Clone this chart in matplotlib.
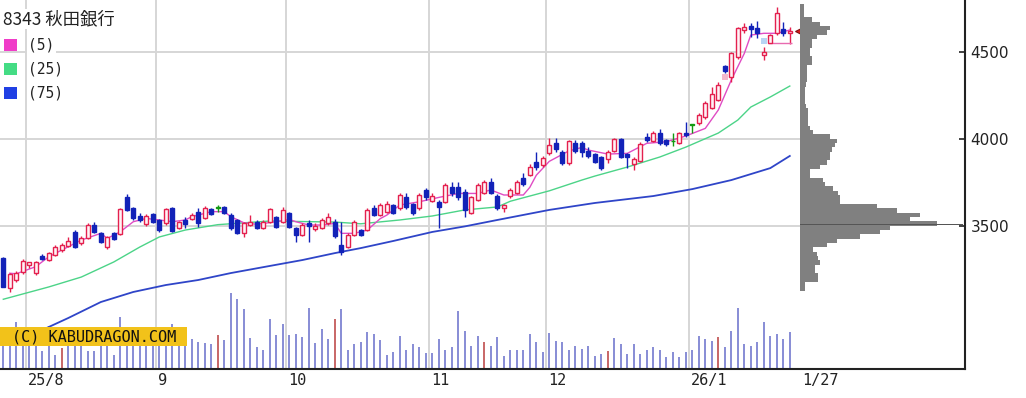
import matplotlib
matplotlib.use("Agg")
import matplotlib.pyplot as plt
from matplotlib.patches import Rectangle
import numpy as np

TITLE = "8343 秋田銀行"

# daily OHLC, 2025-07-28 .. 2026-01-27 (trading days)
opens = [3314, 3138, 3186, 3230, 3272, 3224, 3326, 3301, 3330, 3359,
         3384, 3464, 3397, 3430, 3503, 3458, 3378, 3455, 3449, 3666,
         3599, 3556, 3507, 3564, 3532, 3512, 3599, 3487, 3532, 3537,
         3580, 3541, 3593, 3600, 3605, 3560, 3532, 3455, 3503, 3522,
         3484, 3522, 3547, 3522, 3570, 3484, 3445, 3516, 3478, 3484,
         3512, 3522, 3388, 3378, 3445, 3474, 3474, 3599, 3560, 3580,
         3618, 3599, 3662, 3624, 3599, 3705, 3643, 3637, 3637, 3724,
         3720, 3695, 3570, 3647, 3685, 3753, 3670, 3599, 3670, 3685,
         3772, 3791, 3868, 3849, 3920, 3973, 3925, 3858, 3977, 3974,
         3931, 3912, 3893, 3882, 3931, 3997, 3912, 3855, 3874, 4008,
         3989, 4031, 3993, 3985, 3974, 4035, 4080, 4093, 4124, 4175,
         4224, 4419, 4354, 4473, 4627, 4650, 4637, 4483, 4554, 4608,
         4631, 4608]
highs = [3320, 3225, 3240, 3305, 3292, 3295, 3335, 3350, 3390, 3400,
         3435, 3474, 3440, 3512, 3518, 3465, 3442, 3462, 3600, 3680,
         3605, 3570, 3565, 3570, 3540, 3600, 3605, 3525, 3550, 3570,
         3599, 3610, 3600, 3620, 3610, 3570, 3540, 3520, 3560, 3530,
         3530, 3600, 3555, 3608, 3580, 3490, 3515, 3532, 3515, 3545,
         3570, 3535, 3522, 3455, 3530, 3480, 3600, 3620, 3630, 3640,
         3625, 3686, 3686, 3630, 3690, 3715, 3690, 3645, 3745, 3753,
         3753, 3710, 3670, 3745, 3765, 3772, 3680, 3625, 3715, 3760,
         3800, 3855, 3925, 3900, 4002, 4002, 3935, 3995, 3993, 3985,
         3955, 3920, 3900, 3935, 4005, 4005, 3920, 3897, 3980, 4035,
         4045, 4054, 4000, 4031, 4040, 4099, 4080, 4147, 4215, 4300,
         4330, 4425, 4500, 4645, 4665, 4665, 4680, 4531, 4606, 4761,
         4675, 4646]
lows = [3147, 3118, 3175, 3220, 3253, 3215, 3300, 3295, 3325, 3350,
        3378, 3368, 3390, 3425, 3458, 3398, 3364, 3415, 3445, 3583,
        3530, 3522, 3500, 3515, 3465, 3505, 3462, 3480, 3483, 3530,
        3493, 3535, 3560, 3580, 3565, 3475, 3450, 3435, 3498, 3478,
        3478, 3515, 3485, 3515, 3485, 3407, 3440, 3407, 3470, 3478,
        3505, 3430, 3330, 3372, 3440, 3440, 3470, 3555, 3555, 3570,
        3565, 3590, 3593, 3560, 3590, 3647, 3635, 3484, 3630, 3670,
        3647, 3550, 3565, 3640, 3680, 3680, 3590, 3580, 3660, 3680,
        3728, 3785, 3820, 3840, 3906, 3925, 3850, 3850, 3916, 3897,
        3887, 3860, 3820, 3860, 3925, 3890, 3830, 3820, 3865, 3983,
        3980, 3964, 3960, 3960, 3970, 4012, 4031, 4080, 4115, 4170,
        4215, 4377, 4329, 4460, 4608, 4585, 4579, 4454, 4550, 4600,
        4592, 4546]
closes = [3147, 3218, 3224, 3295, 3287, 3287, 3307, 3340, 3378, 3388,
          3410, 3378, 3430, 3503, 3464, 3403, 3436, 3422, 3595, 3589,
          3541, 3532, 3556, 3522, 3474, 3595, 3468, 3518, 3507, 3560,
          3513, 3599, 3566, 3600, 3570, 3484, 3455, 3512, 3522, 3484,
          3522, 3593, 3493, 3589, 3493, 3445, 3503, 3497, 3497, 3532,
          3551, 3440, 3349, 3445, 3522, 3445, 3589, 3560, 3618, 3624,
          3574, 3676, 3609, 3574, 3676, 3662, 3668, 3609, 3734, 3685,
          3662, 3590, 3662, 3734, 3753, 3690, 3599, 3618, 3705, 3753,
          3740, 3839, 3839, 3887, 3964, 3939, 3858, 3989, 3931, 3926,
          3901, 3868, 3830, 3926, 3997, 3897, 3893, 3882, 3970, 3993,
          4035, 3974, 3970, 3985, 4031, 4022, 4080, 4137, 4204, 4258,
          4310, 4393, 4492, 4636, 4646, 4635, 4612, 4502, 4598, 4727,
          4608, 4623]
# volume (thousand shares)
volumes = [185, 155, 235, 170, 165, 155, 90, 215, 70, 105,
           155, 165, 145, 90, 90, 155, 165, 70, 260, 160,
           145, 155, 165, 145, 155, 165, 225, 145, 155, 150,
           135, 130, 125, 170, 145, 380, 350, 300, 155, 110,
           95, 250, 170, 225, 170, 175, 160, 305, 130, 200,
           150, 250, 300, 95, 125, 135, 185, 175, 145, 70,
           85, 165, 95, 125, 110, 80, 80, 150, 95, 110,
           290, 190, 115, 165, 135, 115, 160, 65, 95, 95,
           95, 175, 135, 85, 180, 140, 135, 95, 115, 100,
           115, 65, 75, 90, 155, 125, 75, 125, 75, 95,
           110, 95, 60, 85, 60, 85, 95, 165, 150, 140,
           160, 110, 190, 305, 125, 115, 135, 235, 165, 175,
           150, 185]
red_volume_days = [9, 33, 51, 74, 93, 110]

# moving averages read at sample days
ma5_idx = [1, 2, 5, 7, 10, 12, 15, 16, 18, 20, 22, 24, 26, 28, 29, 32, 34, 35,
           37, 39, 42, 44, 45, 47, 49, 51, 52, 54, 56, 58, 59, 61, 64, 67, 70,
           73, 75, 77, 80, 81, 82, 84, 87, 89, 90, 93, 96, 99, 102, 105, 108,
           110, 112, 114, 115, 117, 119, 121]
ma5_val = [3225, 3222, 3263, 3320, 3378, 3416, 3455, 3426, 3464, 3522, 3541,
           3532, 3522, 3532, 3551, 3580, 3580, 3551, 3516, 3507, 3522, 3535,
           3522, 3503, 3503, 3512, 3455, 3455, 3474, 3540, 3560, 3618, 3637,
           3662, 3685, 3685, 3705, 3676, 3676, 3720, 3790, 3870, 3930, 3950,
           3935, 3912, 3916, 3974, 3983, 4016, 4060, 4166, 4339, 4492, 4598,
           4608, 4608, 4627]
ma25_idx = [0, 7, 12, 17, 21, 24, 28, 33, 41, 51, 55, 61, 66, 71, 76, 78, 84,
            89, 91, 96, 101, 105, 110, 113, 115, 118, 121]
ma25_val = [3075, 3146, 3203, 3290, 3376, 3434, 3474, 3505, 3526, 3520, 3510,
            3532, 3555, 3590, 3607, 3640, 3700, 3762, 3785, 3837, 3895, 3952,
            4033, 4108, 4183, 4241, 4304]
ma75_idx = [0, 6, 10, 15, 20, 25, 30, 35, 41, 46, 51, 55, 60, 66, 71, 76, 84,
            91, 100, 106, 112, 118, 121]
ma75_val = [2840, 2898, 2967, 3059, 3117, 3157, 3186, 3226, 3267, 3301, 3341,
            3370, 3411, 3463, 3495, 3532, 3590, 3630, 3670, 3710, 3762, 3831,
            3901]

# price-by-volume profile, 25 yen bins starting at 3125
profile_start = 3125
profile_step = 25
profile_vol = [5, 5, 18, 18, 15, 15, 20, 18, 17, 13, 27, 37, 60, 80, 90, 137,
               110, 120, 97, 77, 40, 40, 38, 33, 25, 23, 10, 10, 20, 27, 30,
               30, 32, 35, 37, 30, 13, 10, 8, 8, 8, 8, 6, 5, 5, 5, 5, 6, 7, 7,
               7, 7, 12, 12, 10, 10, 12, 12, 17, 27, 30, 20, 12, 4, 4, 4]
profile_peak_price = 3505

# gap markers and support line near the end
gap_idx = [111, 117]
gap_lo = [4339, 4546]
gap_hi = [4373, 4580]
gap_colors = ["#f4b8cc", "#b8d4f4"]
support_price = 4550
support_from, support_to = 118, 121

month_pos = [3.5, 23.5, 43.5, 65.5, 83.5, 105.5]
month_labels = ["25/8", "9", "10", "11", "12", "26/1"]
last_label = "1/27"
price_ticks = [3500, 4000, 4500]

W, H = 1026, 398
PX = 6.5          # pixels per trading day
X0 = 3.3          # pixel of first candle
PLOT_W, PLOT_H = 965, 369
PROFILE_X = 800

fig = plt.figure(figsize=(W / 100, H / 100), dpi=100, facecolor="white")
rect = [0, 1 - PLOT_H / H, PLOT_W / W, PLOT_H / H]
ax = fig.add_axes(rect)
axv = fig.add_axes(rect, sharex=ax)
ax.set_zorder(2)
axv.set_zorder(1)
ax.patch.set_visible(False)

xmin, xmax = -X0 / PX, (PLOT_W - X0) / PX
prof_i = (PROFILE_X - X0) / PX
ax.set_xlim(xmin, xmax)
ax.set_ylim(2673, 4800)

# grid
for m in month_pos:
    ax.axvline(m, color="#d6d6d6", lw=1.4, zorder=0)
ax.hlines(price_ticks, xmin, prof_i, color="#d6d6d6", lw=1.4, zorder=0)

# volume
idx = np.arange(len(closes))
vcol = ["#c96a6a" if i in red_volume_days else "#8a8fd6" for i in idx]
axv.bar(idx, volumes, width=0.26, color=vcol, linewidth=0)
axv.set_ylim(0, PLOT_H * 5)
axv.axis("off")

# moving averages
ax.plot(ma75_idx, ma75_val, color="#2f45c8", lw=1.3, zorder=3)
ax.plot(ma25_idx, ma25_val, color="#4cd488", lw=1.0, zorder=3)
ax.plot(ma5_idx, ma5_val, color="#e04cc4", lw=1.0, zorder=3)

# candles
o = np.array(opens)
c = np.array(closes)
up_col, dn_col, eq_col = "#e4204e", "#1222b8", "#129a12"
edge = np.where(c > o, up_col, np.where(c < o, dn_col, eq_col))
face = np.where(c > o, "#fff3f6", edge)
ax.vlines(idx, lows, highs, colors=edge, lw=1.0, zorder=4)
body_h = np.maximum(np.abs(c - o), 5)
ax.bar(idx, body_h, bottom=np.minimum(o, c), width=0.64, color=face,
       edgecolor=edge, linewidth=1.0, zorder=5)

ax.bar(gap_idx, np.array(gap_hi) - np.array(gap_lo), bottom=gap_lo,
       width=0.9, color=gap_colors, linewidth=0, zorder=4)
ax.hlines(support_price, support_from - 0.3, support_to + 0.3,
          color="#e86ab0", lw=1.0, zorder=4)

# last price marker
ax.plot(prof_i + 0.1, closes[-1], marker="<", ms=8, mfc="#e01818",
        mec="#801010", mew=0.8, zorder=7, clip_on=False)

# axes styling
for s in ("left", "top"):
    ax.spines[s].set_visible(False)
for s in ("right", "bottom"):
    ax.spines[s].set_color("#222222")
    ax.spines[s].set_linewidth(1.5)
ax.yaxis.tick_right()
ax.set_yticks(price_ticks)
ax.tick_params(axis="y", direction="in", length=4, width=1.2, pad=4,
               labelsize=11, colors="#222222")
ax.set_xticks([m + 0.3 for m in month_pos] + [prof_i + 0.3])
ax.set_xticklabels(month_labels + [last_label], family="DejaVu Sans Mono",
                   fontsize=11, color="#222222")
for lbl in ax.get_xticklabels():
    lbl.set_horizontalalignment("left")
ax.tick_params(axis="x", length=0, pad=3)

# volume profile
axp = fig.add_axes([PROFILE_X / W, rect[1], (PLOT_W - PROFILE_X) / W, rect[3]])
axp.set_zorder(3)
axp.patch.set_visible(False)
bins = profile_start + profile_step * np.arange(len(profile_vol))
axp.barh(bins, profile_vol, height=profile_step, align="edge",
         color="#808080", linewidth=0)
axp.barh(profile_peak_price, PLOT_W - PROFILE_X - 2, height=5,
         color="#555555", linewidth=0)
axp.set_xlim(0, PLOT_W - PROFILE_X)
axp.set_ylim(ax.get_ylim())
axp.axis("off")

# watermark
ax.add_patch(Rectangle((0, (PLOT_H - 346) / PLOT_H), 187 / PLOT_W, 19 / PLOT_H,
                       transform=ax.transAxes, facecolor="#f2c21a",
                       edgecolor="none", zorder=8, clip_on=False))
ax.text(94 / PLOT_W, (PLOT_H - 336.5) / PLOT_H, "(C) KABUDRAGON.COM",
        transform=ax.transAxes, ha="center", va="center",
        family="DejaVu Sans Mono", fontsize=11, color="#111111", zorder=9)

# legend block
fig.text(3 / W, 1 - 19 / H, TITLE, family=["Noto Sans CJK JP", "DejaVu Sans"],
         fontsize=12.5, va="center", ha="left", color="#222222", zorder=10,
         bbox=dict(facecolor="white", edgecolor="none", pad=1))
legend_rows = [("(5)", "#f03cc8"), ("(25)", "#44dc84"), ("(75)", "#2040e4")]
for k, (lab, col) in enumerate(legend_rows):
    yc = 45 + 24 * k
    fig.add_artist(Rectangle((4 / W, 1 - (yc + 6) / H), 13 / W, 12 / H,
                             transform=fig.transFigure, facecolor=col,
                             edgecolor="none", zorder=10))
    fig.text(28 / W, 1 - yc / H, lab, family="DejaVu Sans Mono", fontsize=10.5,
             va="center", ha="left", color="#222222", zorder=10,
             bbox=dict(facecolor="white", edgecolor="none", pad=1))

fig.savefig("out.png", dpi=100, facecolor="white")
